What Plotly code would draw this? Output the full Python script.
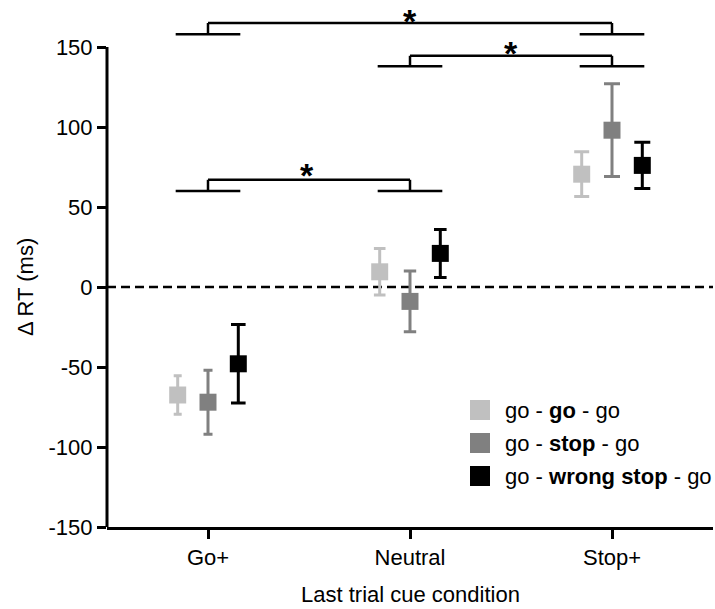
import plotly.graph_objects as go

# ---------------- data ----------------
conditions = ["Go+", "Neutral", "Stop+"]
series_names = ["go - <b>go</b> - go", "go - <b>stop</b> - go", "go - <b>wrong stop</b> - go"]

go_go_go_mean = [-67.5, 9.5, 70.5]
go_go_go_err = [12.0, 14.5, 14.0]

go_stop_go_mean = [-72.0, -9.0, 98.0]
go_stop_go_err = [20.0, 19.0, 29.0]

go_wrong_go_mean = [-48.0, 21.0, 76.0]
go_wrong_go_err = [24.5, 15.0, 14.5]

y_ticks = [-150, -100, -50, 0, 50, 100, 150]

# significance brackets: (group a, group b, low y, high y, star x, star y)
brackets = [
    (0, 2, 158, 165, 1.0, 170.5),
    (1, 2, 138, 144.5, 1.5, 150.5),
    (0, 1, 60, 67, 0.49, 74.5),
]

# ---------------- style ----------------
W, H = 715, 609
ML, MR, MT, MB = 107, 2, 7, 82
Y_MIN, Y_MAX = -150, 175
FONT = "Liberation Sans, Arial, sans-serif"
FS = 22
STAR_FS = 34
colors = ["#c0c0c0", "#808080", "#000000"]
offsets = [-0.15, 0.0, 0.15]
cap_w = [[4.0, 5.8, 7.5], [4.5, 6.2, 8.0], [7.3, 6.3, 8.0]]

means = [go_go_go_mean, go_stop_go_mean, go_wrong_go_mean]
errs = [go_go_go_err, go_stop_go_err, go_wrong_go_err]

PW = W - ML - MR
PH = H - MT - MB


def px_x(px):
    return (px - ML) / PW


def px_y(py):
    return (H - MB - py) / PH


fig = go.Figure()

for s in range(3):
    for c in range(len(conditions)):
        fig.add_trace(go.Scatter(
            x=[c + offsets[s]], y=[means[s][c]],
            mode="markers",
            marker=dict(symbol="square", size=17, color=colors[s], line=dict(width=0)),
            error_y=dict(type="data", array=[errs[s][c]], visible=True,
                         color=colors[s], thickness=3, width=cap_w[s][c]),
            showlegend=False, hoverinfo="skip",
        ))

shapes = []
# zero dashed line
shapes.append(dict(type="line", xref="paper", yref="y", x0=0, x1=1, y0=0, y1=0,
                   line=dict(color="black", width=2.5, dash="9px,5px"), layer="below"))
# y axis line (from -150 to 150 only)
shapes.append(dict(type="line", xref="paper", yref="paper", x0=0, x1=0,
                   y0=0, y1=(y_ticks[-1] - Y_MIN) / (Y_MAX - Y_MIN),
                   line=dict(color="black", width=3)))

annotations = []
half = 0.16
for a, b, ylo, yhi, sx, sy in brackets:
    for g in (a, b):
        shapes.append(dict(type="line", xref="x", yref="y", x0=g - half, x1=g + half,
                           y0=ylo, y1=ylo, line=dict(color="black", width=2.5)))
        shapes.append(dict(type="line", xref="x", yref="y", x0=g, x1=g,
                           y0=ylo, y1=yhi, line=dict(color="black", width=2.5)))
    shapes.append(dict(type="line", xref="x", yref="y", x0=a, x1=b,
                       y0=yhi, y1=yhi, line=dict(color="black", width=2.5)))
    annotations.append(dict(x=sx, y=sy - 4.25, xref="x", yref="y", text="<b>*</b>",
                            showarrow=False, xanchor="center", yanchor="middle",
                            font=dict(family=FONT, size=STAR_FS, color="black")))

# legend (custom)
leg_rows = [410, 443, 476]
for i, name in enumerate(series_names):
    cy = leg_rows[i]
    shapes.append(dict(type="rect", xref="paper", yref="paper",
                       x0=px_x(470), x1=px_x(490), y0=px_y(cy + 10), y1=px_y(cy - 10),
                       fillcolor=colors[i], line=dict(width=0)))
    annotations.append(dict(x=px_x(503), y=px_y(cy), xref="paper", yref="paper",
                            text=name, showarrow=False, xanchor="left", yanchor="middle",
                            font=dict(family=FONT, size=FS, color="black")))

# axis titles
annotations.append(dict(x=px_x(25), y=0, xref="paper", yref="y", text="\u0394 RT (ms)",
                        textangle=-90, showarrow=False, xanchor="center", yanchor="middle",
                        font=dict(family=FONT, size=FS, color="black")))
annotations.append(dict(x=0.5, y=px_y(594), xref="paper", yref="paper",
                        text="Last trial cue condition", showarrow=False,
                        xanchor="center", yanchor="middle",
                        font=dict(family=FONT, size=FS, color="black")))

fig.update_layout(
    width=W, height=H,
    margin=dict(l=ML, r=MR, t=MT, b=MB, pad=0),
    paper_bgcolor="white", plot_bgcolor="white",
    font=dict(family=FONT, size=FS, color="black"),
    shapes=shapes, annotations=annotations,
    showlegend=False,
    xaxis=dict(range=[-0.5, 2.5], tickmode="array", tickvals=list(range(len(conditions))),
               ticktext=conditions, showgrid=False, zeroline=False,
               showline=True, linecolor="black", linewidth=3,
               ticks="outside", ticklen=9, tickwidth=3, tickcolor="black",
               tickfont=dict(family=FONT, size=FS, color="black")),
    yaxis=dict(range=[Y_MIN, Y_MAX], tickmode="array", tickvals=y_ticks,
               ticktext=[str(v) for v in y_ticks], showgrid=False, zeroline=False,
               showline=False, ticks="outside", ticklen=9, tickwidth=3, tickcolor="black",
               tickfont=dict(family=FONT, size=FS, color="black")),
)

fig.write_html("out.html")
